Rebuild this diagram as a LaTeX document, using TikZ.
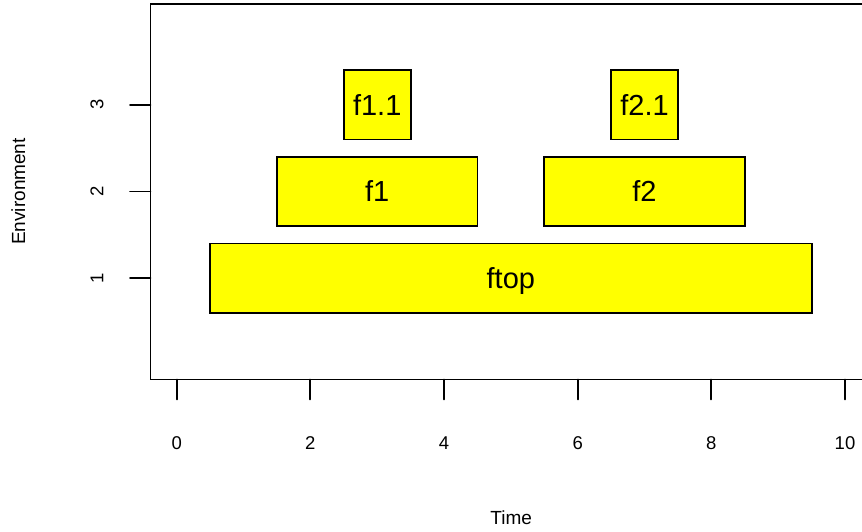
\documentclass[tikz,border=0pt]{standalone}
\usepackage{fontspec}
\setmainfont{Liberation Sans}
\definecolor{blockyellow}{RGB}{255,255,0}
\tikzset{
  blk/.style={draw=black, fill=blockyellow, line width=1.8pt, inner sep=0pt, outer sep=0pt,
    minimum height=69.44pt, text height=20.6pt, text depth=0pt,
    font=\fontsize{29}{29}\selectfont},
  ticklab/.style={inner sep=0pt, font=\fontsize{18.5}{18.5}\selectfont},
  axlab/.style={inner sep=0pt, font=\fontsize{19}{19}\selectfont},
  axline/.style={line width=1.8pt, line cap=round}
}
\begin{document}
\begin{tikzpicture}[x=1pt,y=-1pt]
\useasboundingbox (0,0) rectangle (862,531);
\clip (0,0) rectangle (862,531);
% plot frame (right edge lies outside the page)
\draw[axline] (150.5,3.6) rectangle (871.8,379.5);
% x axis ticks and labels
\foreach \t in {0,2,...,10} {
  \pgfmathsetmacro\px{176.7+66.83*\t}
  \draw[axline] (\px,379.5) -- (\px,399.5);
  \node[ticklab, anchor=base] (xt\t) at (\px,449) {\t};
}
% y axis ticks and labels
\foreach \v in {1,2,3} {
  \pgfmathsetmacro\py{365.1-86.8*\v}
  \draw[axline] (130,\py) -- (150.5,\py);
  \node[ticklab, anchor=base, rotate=90] (yt\v) at (103.3,\py) {\v};
}
% axis titles
\node[axlab, anchor=base] (xtitle) at (511.2,524) {Time};
\node[axlab, anchor=base, rotate=90] (ytitle) at (25,191.5) {Environment};
% environment blocks
\node[blk, minimum width=601.5pt] (ftop) at (510.85,278.3) {ftop};
\node[blk, minimum width=200.5pt] (f1) at (377.2,191.5) {f1};
\node[blk, minimum width=200.5pt] (f2) at (644.5,191.5) {f2};
\node[blk, minimum width=66.83pt] (f11) at (377.2,104.7) {f1.1};
\node[blk, minimum width=66.83pt] (f21) at (644.5,104.7) {f2.1};
\end{tikzpicture}
\end{document}
